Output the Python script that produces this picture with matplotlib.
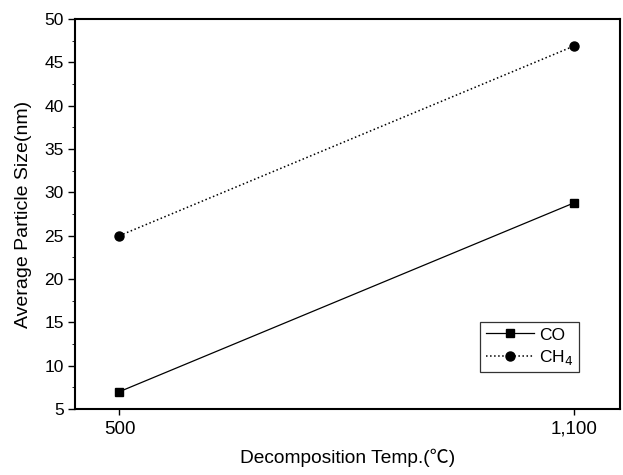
import numpy as np
import matplotlib
matplotlib.use("Agg")
import matplotlib.pyplot as plt
from matplotlib.ticker import MultipleLocator

plt.rcParams['font.family'] = ['Liberation Sans', 'Noto Sans CJK KR', 'DejaVu Sans']

# data
temps = [500, 1100]
tick_labels = ['500', '1,100']
co_size = [7.0, 28.8]
ch4_size = [25.0, 46.9]

fig = plt.figure(figsize=(6.23, 4.75), dpi=100)
ax = fig.add_axes([0.120, 0.139, 0.875, 0.821])

ax.plot(temps, co_size, '-', color='black', lw=0.9, marker='s', ms=6, label='CO')
ax.plot(temps, ch4_size, ':', color='black', lw=1.1, marker='o', ms=6.5, label='CH$_4$')

ax.set_xlim(441, 1160)
ax.set_ylim(5, 50)
ax.set_xticks(temps)
ax.set_xticklabels(tick_labels)
ax.yaxis.set_major_locator(MultipleLocator(5))
ax.yaxis.set_minor_locator(MultipleLocator(2.5))
ax.tick_params(axis='both', direction='out', width=1.0)
ax.tick_params(axis='y', which='major', length=5, labelsize=12.5, pad=3)
ax.tick_params(axis='y', which='minor', length=2.5)
ax.tick_params(axis='x', length=4.5, labelsize=13.5, pad=4)
for s in ax.spines.values():
    s.set_linewidth(1.5)

ax.set_xlabel('Decomposition Temp.(℃)', fontsize=13.8, labelpad=8)
ax.set_ylabel('Average Particle Size(nm)', fontsize=14, labelpad=9)

leg = ax.legend(loc='lower right', bbox_to_anchor=(0.925, 0.095), borderaxespad=0,
                fontsize=12.5, frameon=True, fancybox=False, edgecolor='black',
                handlelength=2.8, handletextpad=0.3, borderpad=0.3, labelspacing=0.3)
leg.get_frame().set_linewidth(0.9)

fig.savefig('out.png', dpi=100)
